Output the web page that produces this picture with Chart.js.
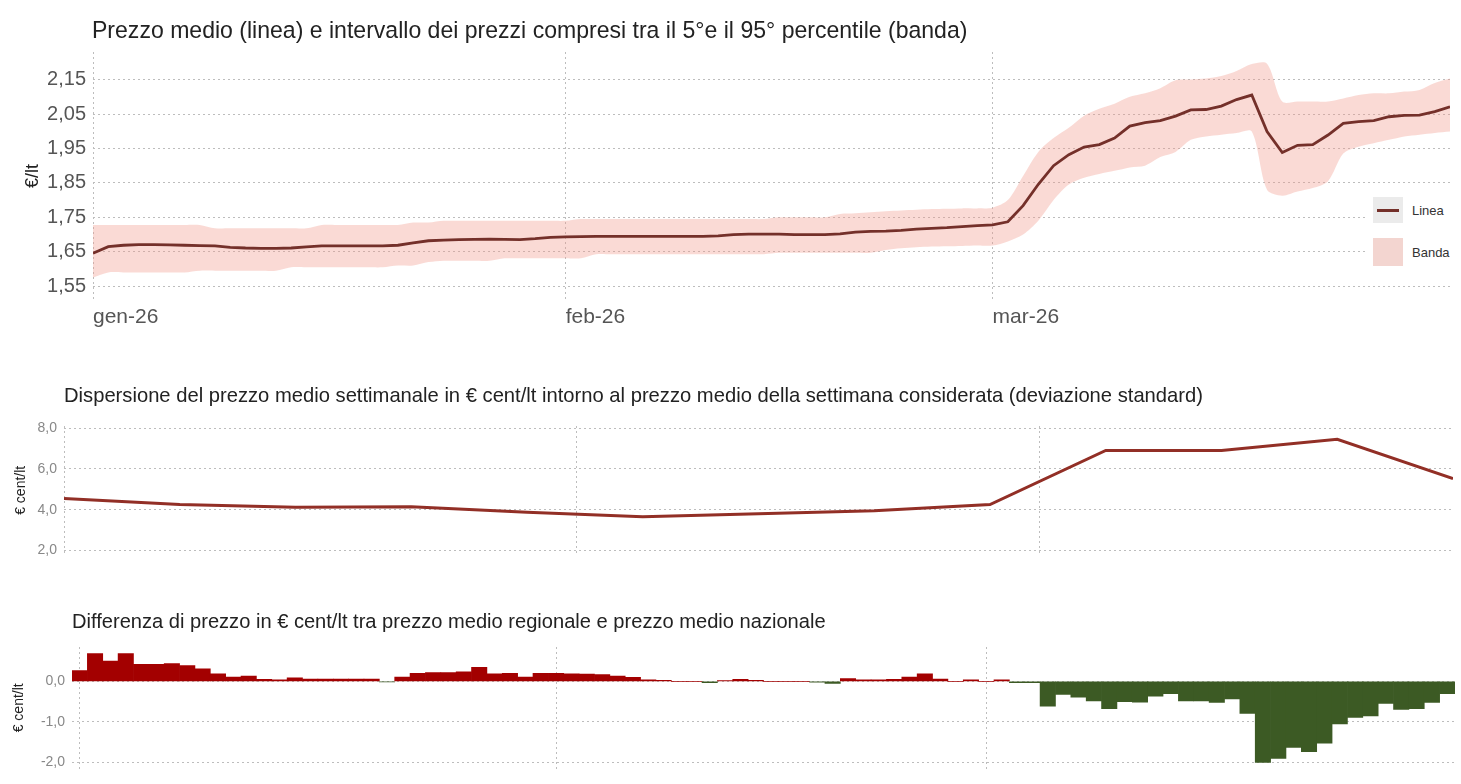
<!DOCTYPE html>
<html>
<head>
<meta charset="utf-8">
<script src="https://cdn.jsdelivr.net/npm/chart.js@4/dist/chart.umd.min.js"></script>
<style>
  body { margin: 0; background: #fff; font-family: "Liberation Sans", Arial, sans-serif; }
  #page { position: relative; width: 1461px; height: 784px; overflow: hidden; background: #fff; }
  .panel { position: absolute; left: 0; width: 1461px; }
  .title { position: absolute; white-space: nowrap; color: #222; line-height: 1.15; }
  #legend { position: absolute; left: 1365px; top: 190px; width: 96px; height: 82px; background: #fff; }
  .key { position: absolute; left: 8px; width: 30px; }
  .key-label { position: absolute; left: 47px; font-size: 13px; color: #333; line-height: 16px; }
</style>
</head>
<body>
<div id="page">
  <div class="panel" style="top:0;height:340px"><canvas id="priceChart"></canvas></div>
  <div class="panel" style="top:400px;height:170px"><canvas id="spreadChart"></canvas></div>
  <div class="panel" style="top:630px;height:154px"><canvas id="diffChart"></canvas></div>

  <div class="title" id="t1">Prezzo medio (linea) e intervallo dei prezzi compresi tra il 5°e il 95° percentile (banda)</div>
  <div class="title" id="t2">Dispersione del prezzo medio settimanale in € cent/lt intorno al prezzo medio della settimana considerata (deviazione standard)</div>
  <div class="title" id="t3">Differenza di prezzo in € cent/lt tra prezzo medio regionale e prezzo medio nazionale</div>

  <div id="legend">
    <div class="key" style="top:7px;height:26px;background:#ebebeb">
      <div style="position:absolute;left:4px;top:12px;width:22px;height:2.5px;background:#74302a"></div>
    </div>
    <div class="key-label" style="top:13px">Linea</div>
    <div class="key" style="top:48px;height:28px;background:#f3d5d0"></div>
    <div class="key-label" style="top:55px">Banda</div>
  </div>
</div>

<script>
// --- dati ---
const startDate = '2026-01-01';
const monthStarts = ['2026-01-01', '2026-02-01', '2026-03-01'];
const monthLabels = ['gen-26', 'feb-26', 'mar-26'];

// giorni dal 1 gen al 31 mar 2026
const days = [];
for (let i = 0; i < 90; i++) {
    const d = new Date(Date.UTC(2026, 0, 1 + i));
    days.push(d.toISOString().slice(0, 10));
}

// prezzo medio giornaliero (€/lt)
const meanPrice = [
    1.646, 1.665, 1.669, 1.671, 1.671, 1.670, 1.669, 1.668, 1.667, 1.663,
    1.661, 1.660, 1.660, 1.661, 1.664, 1.667, 1.667, 1.667, 1.667, 1.667,
    1.669, 1.676, 1.682, 1.684, 1.685, 1.686, 1.687, 1.686, 1.685, 1.688,
    1.692, 1.693, 1.694, 1.695, 1.695, 1.695, 1.695, 1.695, 1.695, 1.695,
    1.695, 1.696, 1.700, 1.701, 1.701, 1.701, 1.700, 1.700, 1.700, 1.702,
    1.707, 1.709, 1.710, 1.712, 1.716, 1.718, 1.720, 1.723, 1.726, 1.728,
    1.737, 1.784, 1.846, 1.900, 1.932, 1.954, 1.961, 1.980, 2.015, 2.025,
    2.031, 2.044, 2.062, 2.063, 2.073, 2.092, 2.105, 1.999, 1.938, 1.959,
    1.961, 1.989, 2.023, 2.028, 2.031, 2.042, 2.046, 2.047, 2.057, 2.071
];
// 95° percentile
const upperBand = [
    1.728, 1.728, 1.728, 1.728, 1.728, 1.728, 1.728, 1.728, 1.718, 1.718,
    1.718, 1.718, 1.718, 1.718, 1.718, 1.728, 1.728, 1.728, 1.728, 1.728,
    1.728, 1.735, 1.735, 1.740, 1.740, 1.740, 1.740, 1.740, 1.740, 1.740,
    1.740, 1.740, 1.745, 1.745, 1.745, 1.745, 1.745, 1.745, 1.745, 1.745,
    1.745, 1.745, 1.745, 1.745, 1.745, 1.750, 1.750, 1.750, 1.750, 1.760,
    1.762, 1.765, 1.768, 1.770, 1.772, 1.774, 1.775, 1.776, 1.776, 1.778,
    1.800, 1.870, 1.940, 1.980, 2.010, 2.045, 2.065, 2.080, 2.100, 2.110,
    2.125, 2.148, 2.150, 2.153, 2.160, 2.175, 2.195, 2.196, 2.086, 2.086,
    2.086, 2.086, 2.095, 2.105, 2.110, 2.110, 2.115, 2.120, 2.140, 2.153
];
// 5° percentile
const lowerBand = [
    1.575, 1.590, 1.590, 1.590, 1.590, 1.590, 1.590, 1.595, 1.595, 1.595,
    1.595, 1.595, 1.595, 1.605, 1.605, 1.605, 1.605, 1.605, 1.605, 1.605,
    1.610, 1.610, 1.620, 1.624, 1.624, 1.624, 1.624, 1.631, 1.631, 1.631,
    1.631, 1.631, 1.631, 1.643, 1.643, 1.643, 1.643, 1.643, 1.643, 1.643,
    1.643, 1.643, 1.643, 1.643, 1.643, 1.647, 1.647, 1.647, 1.647, 1.647,
    1.647, 1.647, 1.655, 1.660, 1.663, 1.665, 1.666, 1.667, 1.668, 1.668,
    1.680, 1.700, 1.740, 1.800, 1.845, 1.865, 1.876, 1.885, 1.895, 1.900,
    1.925, 1.940, 1.975, 1.985, 1.990, 1.995, 1.999, 1.830, 1.813, 1.825,
    1.835, 1.855, 1.935, 1.955, 1.965, 1.975, 1.985, 1.990, 1.995, 1.999
];
const priceTicks = [1.55, 1.65, 1.75, 1.85, 1.95, 2.05, 2.15];

// deviazione standard settimanale (€ cent/lt)
const weeks = [
    '2026-01-01', '2026-01-08', '2026-01-15', '2026-01-22', '2026-01-29',
    '2026-02-05', '2026-02-12', '2026-02-19', '2026-02-26',
    '2026-03-05', '2026-03-12', '2026-03-19', '2026-03-26'
];
const stdDev = [4.55, 4.25, 4.12, 4.15, 3.88, 3.65, 3.80, 3.95, 4.25, 6.90, 6.90, 7.45, 5.52];
const spreadTicks = [2, 4, 6, 8];

// differenza regionale - nazionale (€ cent/lt)
const priceDiff = [
    0.27, 0.69, 0.50, 0.69, 0.42, 0.42, 0.44, 0.39, 0.31, 0.19,
    0.11, 0.13, 0.05, 0.04, 0.09, 0.06, 0.06, 0.06, 0.06, 0.06,
    -0.01, 0.11, 0.20, 0.22, 0.22, 0.24, 0.35, 0.19, 0.20, 0.11,
    0.20, 0.20, 0.19, 0.18, 0.17, 0.13, 0.10, 0.04, 0.03, 0.00,
    0.00, -0.03, 0.02, 0.05, 0.03, 0.00, 0.00, 0.00, -0.02, -0.05,
    0.07, 0.04, 0.04, 0.05, 0.11, 0.19, 0.06, 0.00, 0.04, 0.00,
    0.04, -0.03, -0.03, -0.61, -0.32, -0.39, -0.48, -0.67, -0.50, -0.51,
    -0.36, -0.30, -0.48, -0.48, -0.52, -0.43, -0.79, -2.00, -1.90, -1.63,
    -1.73, -1.52, -1.05, -0.89, -0.85, -0.54, -0.69, -0.67, -0.52, -0.30
];
const diffTicks = [-2, -1, 0];

// --- helpers ---
const dayNum = s => (Date.parse(s) - Date.parse(startDate)) / 86400000;
const monthTickValues = monthStarts.map(dayNum);
const comma = (v, n) => v.toFixed(n).replace('.', ',');

Chart.defaults.font.family = '"Liberation Sans", Arial, sans-serif';
Chart.defaults.animation = false;

const gridColor = '#bdbdbd';
const gridDash = [2, 3];

function monthAxis(min, max, showLabels, height) {
    return {
        type: 'linear', min: min, max: max, offset: false,
        afterBuildTicks: s => { s.ticks = monthTickValues.map(v => ({ value: v })); },
        afterFit: s => { s.height = height; },
        grid: { color: gridColor, drawTicks: false, offset: false },
        border: { display: false, dash: gridDash },
        ticks: {
            display: showLabels, autoSkip: false, maxRotation: 0, align: 'start', padding: 5,
            color: '#555', font: { size: 21 },
            callback: v => monthLabels[monthTickValues.indexOf(v)]
        }
    };
}

function valueAxis(min, max, tickList, decimals, width, fontSize, color, title, titleSize, titlePad) {
    return {
        min: min, max: max,
        afterBuildTicks: s => { s.ticks = tickList.map(v => ({ value: v })); },
        afterFit: s => { s.width = width; },
        grid: { color: gridColor, drawTicks: false },
        border: { display: false, dash: gridDash },
        ticks: { padding: 7, color: color, font: { size: fontSize }, callback: v => comma(v, decimals) },
        title: { display: true, text: title, color: '#222', font: { size: titleSize }, padding: { top: titlePad, bottom: 0 } }
    };
}

const xy = (xs, ys) => ys.map((y, i) => ({ x: dayNum(xs[i]), y: y }));

// --- pannello 1: prezzo medio e banda ---
new Chart(document.getElementById('priceChart'), {
    type: 'line',
    data: {
        datasets: [
            { label: 'Linea', data: xy(days, meanPrice), borderColor: '#74302a', borderWidth: 2.8, pointRadius: 0, fill: false, tension: 0 },
            { label: 'Banda', data: xy(days, upperBand), borderWidth: 0, pointRadius: 0, fill: '+1', backgroundColor: 'rgba(240,150,135,0.35)', tension: 0.3 },
            { label: 'p5', data: xy(days, lowerBand), borderWidth: 0, pointRadius: 0, fill: false, tension: 0.3 }
        ]
    },
    options: {
        responsive: true, maintainAspectRatio: false, devicePixelRatio: 1,
        layout: { padding: { top: 52, right: 11, left: 0, bottom: 0 } },
        plugins: { legend: { display: false }, tooltip: { enabled: false } },
        scales: {
            x: monthAxis(0, 89, true, 40),
            y: valueAxis(1.51, 2.23, priceTicks, 2, 93, 20, '#555', '€/lt', 18, 22)
        }
    }
});

// --- pannello 2: deviazione standard ---
new Chart(document.getElementById('spreadChart'), {
    type: 'line',
    data: {
        datasets: [
            { data: xy(weeks, stdDev), borderColor: '#922f26', borderWidth: 3, pointRadius: 0, fill: false, tension: 0 }
        ]
    },
    options: {
        responsive: true, maintainAspectRatio: false, devicePixelRatio: 1,
        layout: { padding: { top: 26, right: 8, left: 0, bottom: 0 } },
        plugins: { legend: { display: false }, tooltip: { enabled: false } },
        scales: {
            x: monthAxis(0, 84, false, 14),
            y: valueAxis(1.8, 8.1, spreadTicks, 1, 64, 14, '#888', '€ cent/lt', 14, 13)
        }
    }
});

// --- pannello 3: differenza regionale / nazionale ---
new Chart(document.getElementById('diffChart'), {
    type: 'bar',
    data: {
        datasets: [{
            data: xy(days, priceDiff),
            backgroundColor: c => (c.raw && c.raw.y < 0) ? '#3c5a24' : '#a30000',
            borderWidth: 0,
            barPercentage: 1,
            categoryPercentage: 1
        }]
    },
    options: {
        responsive: true, maintainAspectRatio: false, devicePixelRatio: 1,
        layout: { padding: { top: 17, right: 6, left: 0, bottom: 0 } },
        plugins: { legend: { display: false }, tooltip: { enabled: false } },
        scales: {
            x: monthAxis(-0.5, 89.5, false, 2),
            y: valueAxis(-2.15, 0.85, diffTicks, 1, 72, 14, '#888', '€ cent/lt', 14, 11)
        }
    }
});

// --- titoli ---
function fitTitle(id, left, width, centerY) {
    const el = document.getElementById(id);
    el.style.fontSize = '20px';
    const w = el.getBoundingClientRect().width;
    el.style.fontSize = (20 * width / w).toFixed(2) + 'px';
    const h = el.getBoundingClientRect().height;
    el.style.left = left + 'px';
    el.style.top = (centerY - h / 2) + 'px';
}
fitTitle('t1', 92, 876, 30);
fitTitle('t2', 64, 1139, 396);
fitTitle('t3', 72, 754, 622);
</script>
</body>
</html>
